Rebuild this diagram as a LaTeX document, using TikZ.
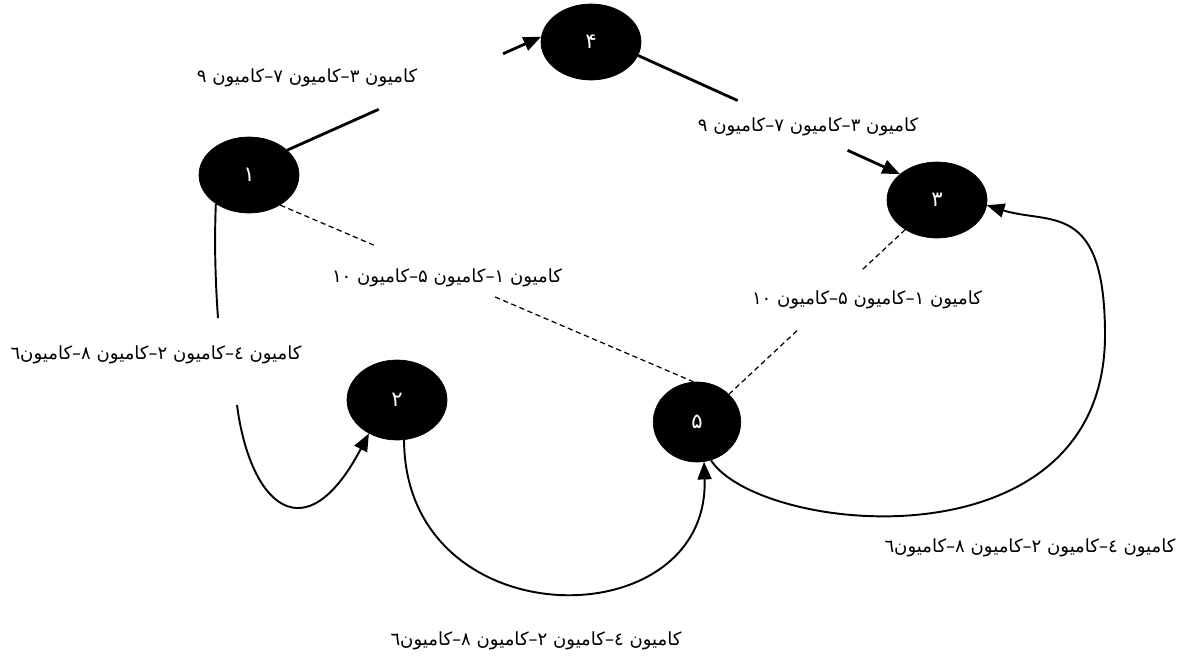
\documentclass[tikz,border=0pt]{standalone}
\usepackage{fontspec}
\usetikzlibrary{arrows.meta,shapes.geometric}
\TeXXeTstate=1
\newfontfamily\arabicfont[Script=Arabic]{DejaVu Sans}

\begin{document}
\begin{tikzpicture}[
  x=0.02cm, y=-0.02cm,
  station/.style={ellipse, fill=black, draw=black, text=white,
    minimum width=2cm, minimum height=1.52cm, inner sep=0pt,
    font=\arabicfont\fontsize{12}{14}\selectfont},
  lbl/.style={inner sep=0pt, font=\arabicfont\fontsize{10.3}{12}\selectfont},
  heavy/.style={line width=1.6pt},
  dashedlink/.style={line width=0.7pt, dash pattern=on 3pt off 2pt},
  curvelink/.style={line width=1.1pt},
  arrowend/.style={-{Triangle[length=10pt,width=8pt]}}
]
\useasboundingbox (0,0) rectangle (1190,656);

% stations
\node[station] (n1) at (249,175) {۱};
\node[station] (n4) at (591,42) {۴};
\node[station] (n3) at (937,200) {۳};
\node[station, minimum width=1.75cm, minimum height=1.6cm] (n5) at (697,422) {۵};
\node[station, minimum height=1.6cm] (n2) at (397,400) {۲};

% route labels
\node[lbl] (l14) at (307,78) {\beginR کامیون ۳–کامیون ۷–کامیون ۹\endR};
\node[lbl] (l43) at (808,127) {\beginR کامیون ۳–کامیون ۷–کامیون ۹\endR};
\node[lbl] (l15) at (447,278) {\beginR کامیون ۱–کامیون ۵–کامیون ۱۰\endR};
\node[lbl] (l53) at (867,300) {\beginR کامیون ۱–کامیون ۵–کامیون ۱۰\endR};
\node[lbl] (l12) at (156,355) {\beginR کامیون ٤–کامیون ۲–کامیون ۸–کامیون٦\endR};
\node[lbl] (l35) at (1030,548) {\beginR کامیون ٤–کامیون ۲–کامیون ۸–کامیون٦\endR};
\node[lbl] (l25) at (536,641) {\beginR کامیون ٤–کامیون ۲–کامیون ۸–کامیون٦\endR};

% 1 -> 4, broken where its label sits
\path (n1.33) -- (n4.174) coordinate[pos=0.36] (a14) coordinate[pos=0.85] (b14);
\draw[heavy] (n1.33) -- (a14);
\draw[heavy, arrowend] (b14) -- (n4.174);

% 4 -> 3
\path (n4.344) -- (n3.145) coordinate[pos=0.38] (a43) coordinate[pos=0.8] (b43);
\draw[heavy] (n4.344) -- (a43);
\draw[heavy, arrowend] (b43) -- (n3.145);

% 1 - 5 dashed
\path (n1.316) -- (n5.95) coordinate[pos=0.23] (a15) coordinate[pos=0.52] (b15);
\draw[dashedlink] (n1.316) -- (a15);
\draw[dashedlink] (b15) -- (n5.95);

% 5 - 3 dashed
\path (n5.41) -- (n3.223) coordinate[pos=0.40] (a53) coordinate[pos=0.76] (b53);
\draw[dashedlink] (n5.41) -- (a53);
\draw[dashedlink] (b53) -- (n3.223);

% 1 -> 2 curve, in two pieces around its label
\coordinate (c12a) at (218,318);
\coordinate (c12b) at (237,405);
\draw[curvelink] (n1.221) .. controls (214,250) and (216,290) .. (c12a);
\draw[curvelink, arrowend] (c12b) .. controls (250,505) and (305,555) .. (n2.230);

% 2 -> 5
\draw[curvelink, arrowend] (n2.280) .. controls (405,640) and (710,640) .. (n5.280);

% 5 -> 3, round the right side
\coordinate (r53) at (1105,335);
\draw[curvelink, arrowend] (n5.290) .. controls (760,535) and (1105,570) .. (r53)
  .. controls (1105,200) and (1050,225) .. (n3.354);
\end{tikzpicture}
\end{document}
